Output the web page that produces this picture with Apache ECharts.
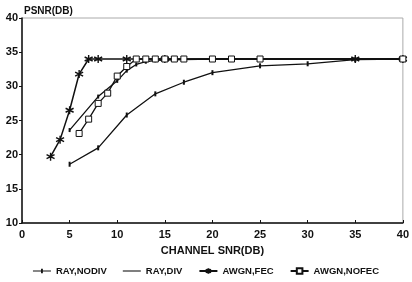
<!DOCTYPE html>
<html>
<head>
<meta charset="utf-8">
<script src="https://cdn.jsdelivr.net/npm/echarts@6/dist/echarts.min.js"></script>
<style>
    html, body { margin: 0; padding: 0; background: #fff; }
    #chart { width: 412px; height: 282px; }
</style>
</head>
<body>
<div id="chart"></div>
<script>
    var seriesNames = ['RAY,NODIV', 'RAY,DIV', 'AWGN,FEC', 'AWGN,NOFEC'];
    var xTicks = [0, 5, 10, 15, 20, 25, 30, 35, 40];
    var yTicks = [10, 15, 20, 25, 30, 35, 40];

    // [channel SNR, PSNR]
    var rayNodiv = [[5, 18.6], [8, 21], [11, 25.8], [14, 28.9], [17, 30.6], [20, 32], [25, 33], [30, 33.3], [35, 33.9], [40, 34]];
    var rayDiv = [[5, 23.6], [8, 28.5], [10, 30.8], [11, 32.3], [12, 33.2], [13, 33.6], [14, 33.8], [17, 33.9], [20, 34], [40, 34]];
    var awgnFec = [[3, 19.7], [4, 22.2], [5, 26.5], [6, 31.8], [7, 34], [8, 34], [11, 34], [15, 34], [35, 34], [40, 34]];
    var awgnNofec = [[6, 23.1], [7, 25.2], [8, 27.5], [9, 29], [10, 31.5], [11, 32.9], [12, 34], [13, 34], [14, 34], [15, 34], [16, 34], [17, 34], [20, 34], [22, 34], [25, 34], [40, 34]];

    var ink = '#111';
    var font = { fontFamily: 'Liberation Sans', fontWeight: 'bold', fontSize: 11, color: ink };

    var starMark = 'path://M0,-5L0,5M-4.3,-2.5L4.3,2.5M-4.3,2.5L4.3,-2.5';
    // legend icons, filled shapes
    var lineTickIcon = 'path://M0,3H9V1H11V3H20V4.2H11V6.2H9V4.2H0Z';
    var lineIcon = 'path://M0,3H20V4.2H0Z';

    var myChart = echarts.init(document.getElementById('chart'), null, { renderer: 'canvas' });
    var option = {
        animation: false,
        title: {
            text: 'PSNR(DB)',
            left: 19,
            top: 1,
            textStyle: { fontFamily: 'Liberation Sans', fontWeight: 'bold', fontSize: 10, color: ink }
        },
        grid: {
            left: 22,
            right: 8,
            top: 18,
            bottom: 59,
            show: true,
            borderColor: '#aaa',
            borderWidth: 1
        },
        xAxis: {
            type: 'value',
            min: 0,
            max: 40,
            interval: 5,
            name: 'CHANNEL SNR(DB)',
            nameLocation: 'middle',
            nameGap: 22,
            nameTextStyle: font,
            axisLine: { lineStyle: { color: ink, width: 1.5 } },
            axisTick: { show: true, inside: true, length: 3, lineStyle: { color: ink } },
            axisLabel: Object.assign({ margin: 6, formatter: function(v) {
                return xTicks.indexOf(v) >= 0 ? v : '';
            } }, font),
            splitLine: { show: false }
        },
        yAxis: {
            type: 'value',
            min: 10,
            max: 40,
            interval: 5,
            axisLine: { show: true, lineStyle: { color: ink, width: 1.5 } },
            axisTick: { show: true, length: 3, lineStyle: { color: ink } },
            axisLabel: Object.assign({ margin: 4, formatter: function(v) {
                return yTicks.indexOf(v) >= 0 ? v : '';
            } }, font),
            splitLine: { show: false }
        },
        legend: {
            bottom: 1,
            left: 'center',
            itemWidth: 18,
            itemHeight: 7,
            itemGap: 16,
            textStyle: { fontFamily: 'Liberation Sans', fontWeight: 'bold', fontSize: 9.5, color: ink },
            data: [
                { name: seriesNames[0], icon: lineTickIcon },
                { name: seriesNames[1], icon: lineIcon },
                { name: seriesNames[2] },
                { name: seriesNames[3] }
            ]
        },
        series: [{
            name: seriesNames[0],
            type: 'line',
            data: rayNodiv,
            symbol: 'rect',
            symbolSize: [2, 5],
            lineStyle: { color: ink, width: 1.3 },
            itemStyle: { color: ink }
        }, {
            name: seriesNames[1],
            type: 'line',
            data: rayDiv,
            symbol: 'rect',
            symbolSize: [2, 4],
            lineStyle: { color: ink, width: 1.3 },
            itemStyle: { color: ink }
        }, {
            name: seriesNames[2],
            type: 'line',
            data: awgnFec,
            symbol: starMark,
            symbolSize: 8,
            lineStyle: { color: ink, width: 1.5 },
            itemStyle: { color: ink, borderColor: ink, borderWidth: 1.4 }
        }, {
            name: seriesNames[3],
            type: 'line',
            data: awgnNofec,
            symbol: 'rect',
            symbolSize: 6,
            lineStyle: { color: ink, width: 1.3 },
            itemStyle: { color: '#fff', borderColor: ink, borderWidth: 1 }
        }]
    };
    myChart.setOption(option);
</script>
</body>
</html>
